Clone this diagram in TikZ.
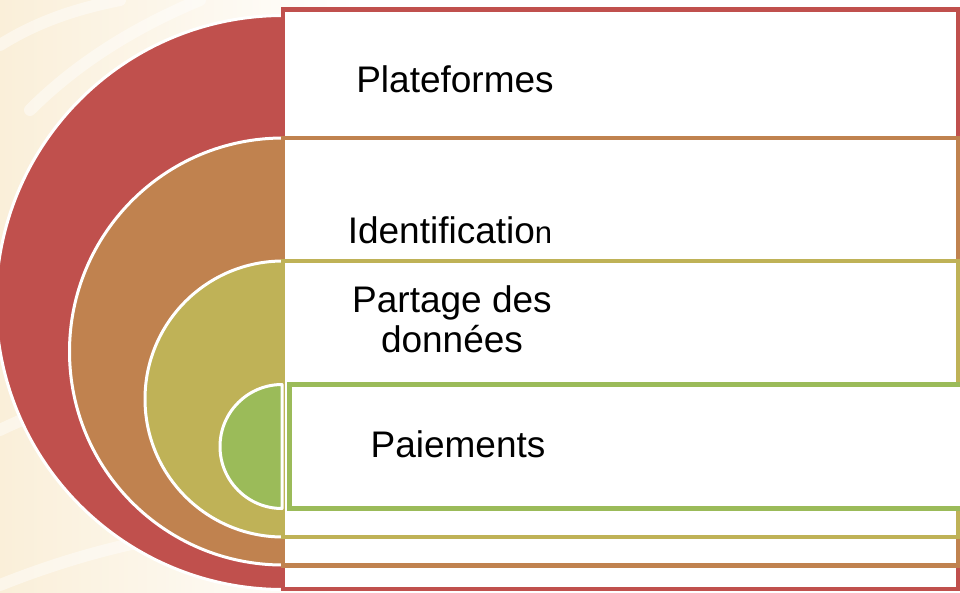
\documentclass[tikz,border=0pt]{standalone}
\usepackage{fontspec}
\setmainfont{Liberation Sans}
\definecolor{cred}{HTML}{C0504D}
\definecolor{corange}{HTML}{C0824F}
\definecolor{colive}{HTML}{BFB257}
\definecolor{cgreen}{HTML}{9BBB59}
\definecolor{beige}{HTML}{FAEFD9}
\begin{document}
\begin{tikzpicture}[x=1pt,y=-1pt,
  disc/.style={draw=white, line width=3pt, line join=round},
  panel/.style={fill=white, line width=4.5pt},
  lbl/.style={font=\fontsize{37}{40}\selectfont, anchor=base, inner sep=0pt},
  streak/.style={draw=white, line width=12pt, opacity=0.45, line cap=round}]
\useasboundingbox (0,0) rectangle (960,592);
% background
\fill[white] (0,0) rectangle (960,592);
\shade[left color=beige, right color=white] (0,0) rectangle (360,592);
\draw[streak] (0,45) .. controls (40,20) and (80,8) .. (120,0);
\draw[streak] (30,110) .. controls (80,60) and (140,25) .. (200,0);
\draw[streak] (0,430) .. controls (40,410) and (80,400) .. (120,395);
\draw[streak] (0,585) .. controls (50,565) and (100,550) .. (150,540);
% level 1 : red
\filldraw[disc, fill=cred] (283,15.5) arc[start angle=270, end angle=90, radius=287] -- cycle;
\draw[panel, draw=cred] (283,9.5) rectangle (958.5,589);
% level 2 : orange
\filldraw[disc, fill=corange] (283,138) arc[start angle=270, end angle=90, radius=213.5] -- cycle;
\draw[panel, draw=corange] (283,138) rectangle (958.5,565.5);
% level 3 : olive
\filldraw[disc, fill=colive] (283,261) arc[start angle=270, end angle=90, radius=138] -- cycle;
\draw[panel, draw=colive] (283,261) rectangle (958.5,537);
% level 4 : green
\filldraw[disc, fill=cgreen] (282,384.5) arc[start angle=270, end angle=90, radius=62] -- cycle;
\draw[panel, draw=cgreen, line width=5pt] (289.5,384.5) rectangle (966,508.5);
% labels
\node[lbl] (plateformes) at (455,92) {Plateformes};
\node[lbl] (identification) at (450,243) {Identificatio{\fontsize{31}{34}\selectfont n}};
\node[lbl] (partage) at (452,312) {Partage des};
\node[lbl] (donnees) at (452,352) {données};
\node[lbl] (paiements) at (458,457) {Paiements};
\end{tikzpicture}
\end{document}
